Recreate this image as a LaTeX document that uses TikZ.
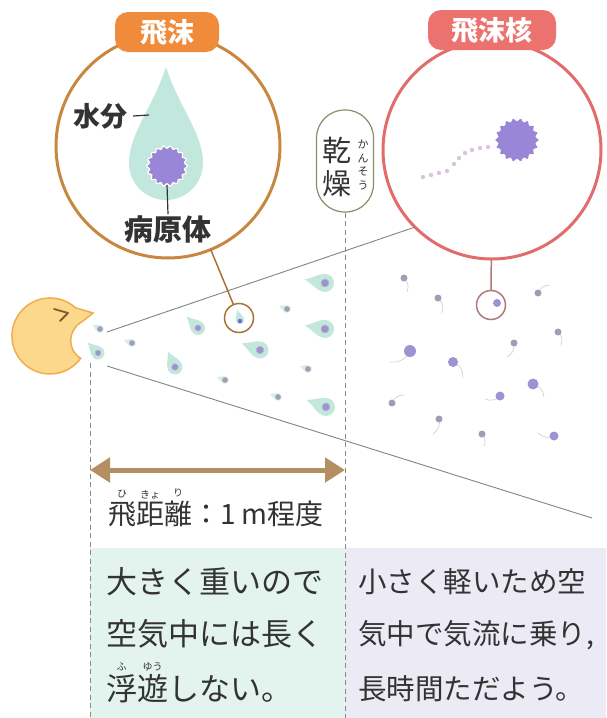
\documentclass[tikz,border=0pt]{standalone}
\usepackage{fontspec}
\setmainfont{Noto Sans CJK JP}
\usetikzlibrary{arrows.meta}

\definecolor{dropframe}{HTML}{C8873F}
\definecolor{droptagfill}{HTML}{EF8B3B}
\definecolor{nucframe}{HTML}{E26C6B}
\definecolor{nuctagfill}{HTML}{EC7270}
\definecolor{waterfill}{HTML}{C2E7DD}
\definecolor{germfill}{HTML}{9A86D6}
\definecolor{sporefill}{HTML}{9D92D2}
\definecolor{grainfill}{HTML}{A19DB4}
\definecolor{conegray}{HTML}{7E8584}
\definecolor{dashgray}{HTML}{8C8B80}
\definecolor{reachbrown}{HTML}{B48F63}
\definecolor{facefill}{HTML}{FCD88C}
\definecolor{faceline}{HTML}{F0AD4C}
\definecolor{pillline}{HTML}{8C8B6A}
\definecolor{trailpink}{HTML}{DCC3DF}
\definecolor{mintbg}{HTML}{E3F3EE}
\definecolor{lavbg}{HTML}{EBEAF5}
\definecolor{ink}{HTML}{333333}

% ruby over a kanji
\newcommand\furi[2]{\leavevmode\setbox0=\hbox{#1}\rlap{\raisebox{\dimexpr\ht0+4pt\relax}[0pt][0pt]{\makebox[\wd0]{\fontsize{10}{10}\selectfont #2}}}\box0}

\tikzset{
  drop/.pic={\fill[waterfill] (0,-2.6) .. controls (0.35,-1.5) and (1,-0.8) .. (1,0)
      arc[start angle=0,end angle=180,radius=1] .. controls (-1,-0.8) and (-0.35,-1.5) .. cycle;},
  spray/.pic={\fill[waterfill] (0,-2.3) .. controls (0.3,-1.4) and (1,-0.8) .. (1,0)
      arc[start angle=0,end angle=180,radius=1] .. controls (-1,-0.8) and (-0.3,-1.4) .. cycle;
    \fill[sporefill, draw=grainfill!70, line width=0.6pt] (0,0) circle (0.45);},
  mist/.pic={\fill[waterfill!70] (0,-2.2) .. controls (0.35,-1.3) and (1,-0.8) .. (1,0)
      arc[start angle=0,end angle=180,radius=1] .. controls (-1,-0.8) and (-0.35,-1.3) .. cycle;
    \fill[grainfill] (0,0) circle (0.75);},
  germ/.pic={\filldraw[germfill, draw=white, line width=1.2pt]
      plot[domain=0:360, samples=109] ({(1+0.07*cos(18*\x))*cos(\x)}, {(1+0.07*cos(18*\x))*sin(\x)}) -- cycle;}
}

\begin{document}
\begin{tikzpicture}[x=1pt, y=-1pt, text=ink,
  view/.style={circle, draw, line width=3pt, fill=white, inner sep=0pt, outer sep=0pt},
  tag/.style={rounded corners=13pt, minimum height=40pt, text=white, inner sep=0pt,
    font=\bfseries\fontsize{27}{30}\selectfont},
  lens/.style={circle, draw, line width=1.5pt, fill=white, minimum size=29pt, inner sep=0pt, outer sep=0pt},
  guide/.style={dashgray, line width=0.9pt, dash pattern=on 5pt off 3.5pt},
  cone/.style={conegray, line width=0.9pt},
  tail/.style={black!18, line width=0.7pt},
  body/.style={anchor=north west, align=left, inner sep=0pt}]
\useasboundingbox (0,0) rectangle (606,718);

\fill[mintbg] (90,548) rectangle (345,718);
\fill[lavbg] (345,548) rectangle (606,718);

% the two views
\node[view, draw=dropframe, minimum size=224pt] (dropview) at (168,146) {};
\node[view, draw=nucframe, minimum size=218pt] (nucview) at (492,150) {};
\node[tag, fill=droptagfill, minimum width=104pt] (droptag) at (167,32) {飛沫};
\node[tag, fill=nuctagfill, minimum width=128pt] (nuctag) at (492,30) {飛沫核};

\pic[scale=37] at (166,163) {drop};
\coordinate (germ) at (167,166);
\pic[scale=19] at (germ) {germ};
\node[font=\bfseries\fontsize{27}{30}\selectfont, inner sep=1pt] (water) at (100,116) {水分};
\coordinate (waterend) at (149,115);
\draw[ink, line width=1.2pt] ([xshift=5pt]water.east) -- (waterend);
\node[font=\bfseries\fontsize{29}{32}\selectfont, inner sep=1pt] (agent) at (168,229) {病原体};
\draw[ink, line width=1.2pt] (germ) ++(0,19) -- (agent.north);

\foreach \p in {(423,177),(431,175),(439,173),(447,171),(454,164),(459,158),(465,153),(472,150),(480,148),(488,147)}
  \fill[trailpink] \p circle (2.2);
\pic[scale=21] at (517,140) {germ};

% drying
\node[draw=pillline, line width=1.2pt, rounded corners=28pt, minimum width=57pt, minimum height=102pt, fill=white] (drypill) at (345,161) {};
\node[font=\fontsize{29}{33}\selectfont, align=center, inner sep=0pt] (dryword) at (337,167) {乾\\燥};
\node[font=\fontsize{11}{13.5}\selectfont, align=center, inner sep=0pt] (dryruby) at (363,165) {か\\ん\\そ\\う};

% reach of the spray
\coordinate (guideL) at (90,363);
\coordinate (guideLend) at (90,718);
\coordinate (guideRend) at (345,718);
\draw[guide] (guideL) -- (guideLend);
\draw[guide] (drypill.south) -- (guideRend);

\coordinate (mouthtop) at (107,332);
\coordinate (mouthlow) at (107,366);
\coordinate (conelow) at (592,518);
\draw[cone] (mouthtop) -- (nucview.225);
\draw[cone] (mouthlow) -- (conelow);

\foreach \x/\y/\s/\a in {98/353/6.5/45, 198/328/7/45, 175/367/7.5/25, 260/350/8.5/70,
  325/283/9/80, 325/329/9/80, 326/407/9/70}
  \pic[scale=\s, rotate=\a] at (\x,\y) {spray};
\foreach \x/\y/\a in {100/329/60, 132/343/70, 287/309/70, 308/369/70, 225/380/70, 278/397/70}
  \pic[scale=3.8, rotate=\a] at (\x,\y) {mist};

\foreach \x/\y/\r/\dx/\dy/\c in {404/278/3.5/3/14/grainfill, 438/298/3.5/4/15/grainfill,
  538/293/3.5/12/-8/grainfill, 558/332/3.5/3/13/grainfill, 514/343/3.5/-7/14/grainfill,
  410/351/6/-20/11/sporefill, 453/362/5/10/15/sporefill, 533/384/5.5/11/13/sporefill,
  500/396/4.5/-15/3/sporefill, 392/403/3.5/12/-8/grainfill, 439/419/3.5/-6/15/grainfill,
  482/434/3.5/2/12/grainfill, 554/436/4.5/-16/-3/sporefill}
{
  \draw[tail] (\x,\y) to[bend left=35] ++(\dx,\dy);
  \fill[\c] (\x,\y) circle (\r);
}

% close-ups
\node[lens, draw=dropframe!85!black] (droplens) at (239,318) {};
\draw[dropframe!85!black, line width=1.5pt] (droplens) -- (dropview);
\pic[scale=4.2, rotate=15] at (240,320) {drop};
\fill[germfill!80!blue] (240,321) circle (2.3);
\node[lens, draw=nucframe!60!black!70] (nuclens) at (491,305) {};
\draw[nucframe!60!black!70, line width=1.5pt] (nuclens) -- (nucview);
\fill[sporefill] (497,303) circle (4);

% the sneezing face
\filldraw[fill=facefill, draw=faceline, line width=1.5pt] (93,313) -- (83,321)
  .. controls (67,330) and (67,350) .. (80.7,358.3)
  arc[start angle=36, end angle=312, radius=38] -- cycle;
\draw[brown!70!black, line width=1.8pt, line cap=round, line join=round] (54,309) -- (68,313) -- (60,321);

\coordinate (reachL) at (90,470);
\coordinate (reachR) at (345,470);
\draw[reachbrown, line width=5pt, {Triangle[length=20pt,width=24pt]}-{Triangle[length=20pt,width=24pt]}] (reachL) -- (reachR);
\node[font=\fontsize{28}{30}\selectfont, inner sep=0pt] (reach) at (216,514)
  {\furi{飛}{ひ}\furi{距}{きょ}\furi{離}{り}：1 m程度};

\node[body, font=\fontsize{31}{52}\selectfont] (heavy) at (106,567)
  {大きく重いので\\空気中には長く\\[3pt]\furi{浮}{ふ}\furi{遊}{ゆう}しない。};
\node[body, font=\fontsize{28.5}{52}\selectfont] (light) at (358,568)
  {小さく軽いため空\\気中で気流に乗り,\\[3pt]長時間ただよう。};
\end{tikzpicture}
\end{document}
